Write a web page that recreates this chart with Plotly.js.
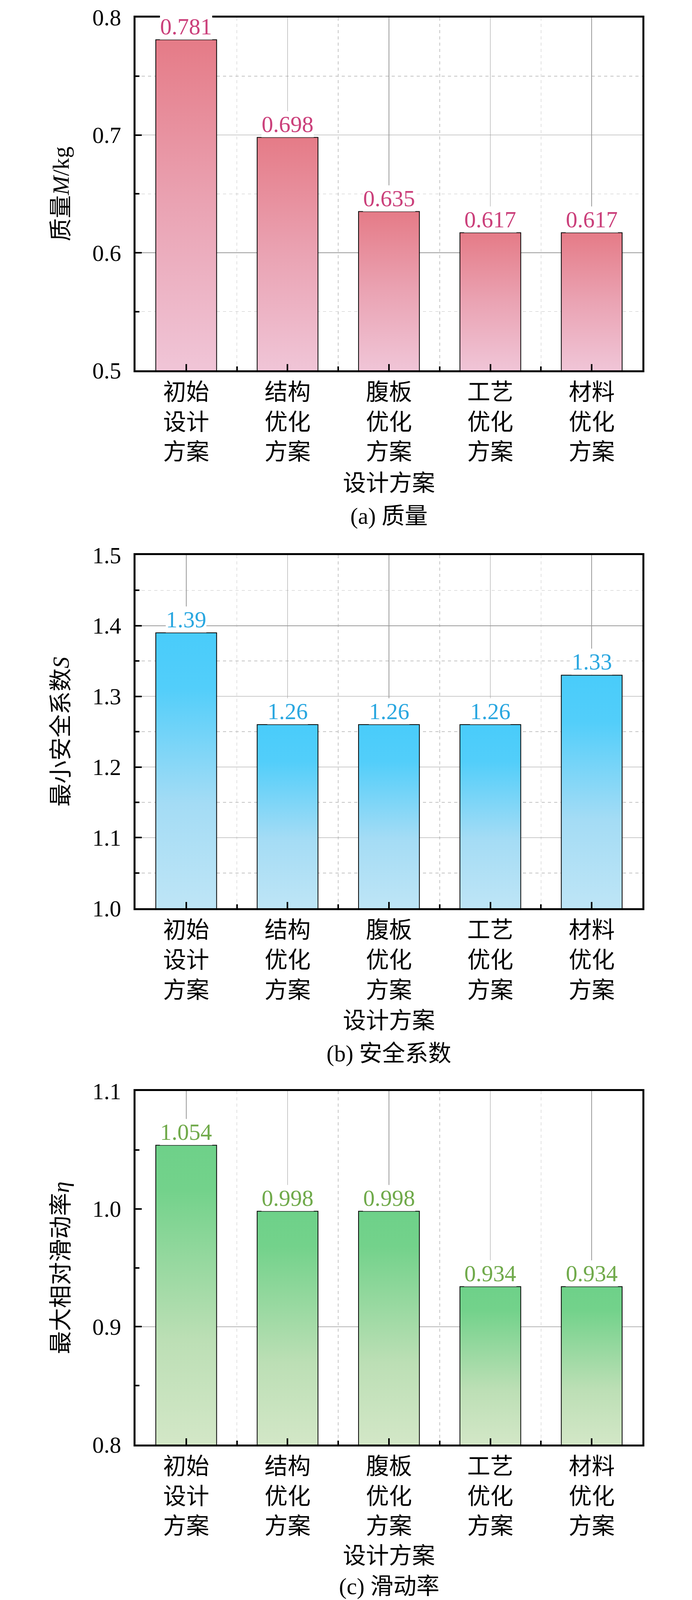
<!DOCTYPE html>
<html>
<head>
<meta charset="utf-8">
<script src="https://cdn.plot.ly/plotly-3.0.1.min.js"></script>
<style>
  body { margin: 0; background: #fff; overflow: hidden; }
</style>
</head>
<body>
<div id="chart"></div>
<script>
// categories (same for the three panels)
var schemes = ['初始<br>设计<br>方案', '结构<br>优化<br>方案', '腹板<br>优化<br>方案', '工艺<br>优化<br>方案', '材料<br>优化<br>方案'];
var pos = [0, 1, 2, 3, 4];

// values
var mass = [0.781, 0.698, 0.635, 0.617, 0.617];     // (a) 质量 M/kg
var safety = [1.39, 1.26, 1.26, 1.26, 1.33];        // (b) 最小安全系数 S
var slip = [1.054, 0.998, 0.998, 0.934, 0.934];     // (c) 最大相对滑动率 η

// the figure is laid out on a 1772 x 4680 sheet, fitted to the visible window height
var W = 1772;
var H = Math.min(4680, window.innerHeight || 4680);
var TOP = 14;                                   // small top pad so the first tick label is not clipped
function py(px) { return 1 - (TOP + px * (H - TOP) / 4680) / H; }   // sheet row -> paper fraction

var FONT = 'Liberation Serif, Times New Roman, Noto Sans CJK SC, serif';
var FS = Math.round(63 * Math.sqrt(H / 4680));

function xAxis(anchor) {
  return {
    anchor: anchor,
    domain: [347 / W, 1645 / W],
    range: [-0.5, 4.5],
    tickmode: 'array', tickvals: pos, ticktext: schemes,
    ticks: 'inside', ticklen: 16, tickwidth: 4, tickcolor: '#000',
    ticklabelstandoff: 0,
    showline: true, linewidth: 5, linecolor: '#000', mirror: true,
    showgrid: true, gridcolor: '#9a9a9a', gridwidth: 1.5,
    zeroline: false,
    tickfont: { size: FS },
    minor: { tickmode: 'linear', tick0: 0.5, dtick: 1, ticks: 'inside', ticklen: 10, tickwidth: 4, tickcolor: '#000',
             showgrid: true, gridcolor: '#c4c4c4', gridwidth: 1.5, griddash: '8px,8px' }
  };
}

function yAxis(anchor, top, bottom, rng, title, minorGrid) {
  return {
    anchor: anchor,
    domain: [py(bottom), py(top)],
    range: rng,
    dtick: 0.1, tick0: 0, tickformat: '.1f',
    ticks: 'inside', ticklen: 16, tickwidth: 4, tickcolor: '#000',
    ticklabelstandoff: 20, ticklabeloverflow: 'allow',
    showline: true, linewidth: 5, linecolor: '#000', mirror: true,
    showgrid: true, gridcolor: '#9a9a9a', gridwidth: 1.5,
    zeroline: false,
    tickfont: { size: FS },
    minor: { dtick: 0.05, ticks: 'inside', ticklen: 10, tickwidth: 4, tickcolor: '#000',
             showgrid: minorGrid, gridcolor: '#c4c4c4', gridwidth: 1.5, griddash: '8px,8px' },
    title: { text: title, standoff: 42, font: { size: FS } }
  };
}

function bars(vals, xa, ya, color) {
  return {
    type: 'bar', x: pos, y: vals, xaxis: xa, yaxis: ya, width: 0.6,
    marker: { color: color, line: { color: '#000', width: 2 } },
    hoverinfo: 'skip', showlegend: false
  };
}

var data = [
  bars(mass, 'x', 'y', '#E57B87'),
  bars(safety, 'x2', 'y2', '#49CCFA'),
  bars(slip, 'x3', 'y3', '#6ED189')
];

function valueLabels(vals, xr, yr, digits, color) {
  return vals.map(function (v, i) {
    return {
      x: pos[i], y: v, xref: xr, yref: yr, text: v.toFixed(digits),
      showarrow: false, yanchor: 'bottom', yshift: 0,
      bgcolor: '#fff', borderpad: 0,
      font: { family: FONT, size: FS, color: color }
    };
  });
}

function centred(text, xr, rowPx) {
  return { x: 0.5, xref: xr + ' domain', y: py(rowPx), yref: 'paper', text: text, showarrow: false,
           yanchor: 'middle', font: { family: FONT, size: FS, color: '#000' } };
}

var annotations = []
  .concat(valueLabels(mass, 'x', 'y', 3, '#CB407B'))
  .concat(valueLabels(safety, 'x2', 'y2', 2, '#2AA7E0'))
  .concat(valueLabels(slip, 'x3', 'y3', 3, '#70AA4B'));
annotations.push(centred('设计方案', 'x', 1402));
annotations.push(centred('(a) 质量', 'x', 1498));
annotations.push(centred('设计方案', 'x2', 2980));
annotations.push(centred('(b) 安全系数', 'x2', 3076));
annotations.push(centred('设计方案', 'x3', 4550));
annotations.push(centred('(c) 滑动率', 'x3', 4640));

var layout = {
  width: W, height: H,
  margin: { l: 0, r: 0, t: 0, b: 0 },
  paper_bgcolor: '#fff', plot_bgcolor: '#fff',
  font: { family: FONT, size: FS, color: '#000' },
  xaxis: xAxis('y'),
  xaxis2: xAxis('y2'),
  xaxis3: xAxis('y3'),
  yaxis: yAxis('x', 35, 1071, [0.5, 0.8], '质量<i>M</i>/kg', true),
  yaxis2: yAxis('x2', 1613, 2650, [1.0, 1.5], '最小安全系数<i>S</i>', true),
  yaxis3: yAxis('x3', 3186, 4224, [0.8, 1.1], '最大相对滑动率<i>η</i>', false),
  shapes: [
    // panel (c) shows only the 0.9 horizontal grid line
    { type: 'line', xref: 'x3 domain', yref: 'y3', x0: 0, x1: 1, y0: 0.9, y1: 0.9,
      line: { color: '#9a9a9a', width: 1.5 }, layer: 'below' }
  ],
  annotations: annotations
};
layout.yaxis3.showgrid = false;

// vertical colour ramps for the bars, per subplot (top of bar -> bottom axis)
var ramps = {
  xy: { axis: 'yaxis', stops: [['0', '#E57B87'], ['0.5', '#EAA3B3'], ['1', '#F0C5D7']] },
  x2y2: { axis: 'yaxis2', stops: [['0', '#49CCFA'], ['0.2', '#52CEFA'], ['0.62', '#A4DCF5'], ['1', '#BEE5F6']] },
  x3y3: { axis: 'yaxis3', stops: [['0', '#6ED189'], ['0.15', '#73D28B'], ['0.65', '#BCDFB5'], ['1', '#D3E7C7']] }
};

// bars start at 0, far below the visible range, so each ramp is set in user space
// from the bar's top edge down to the bottom of its plot area
function paintBars(gd) {
  var svgNS = 'http://www.w3.org/2000/svg';
  var defs = gd.querySelector('.main-svg defs');
  Object.keys(ramps).forEach(function (sp) {
    var dom = layout[ramps[sp].axis].domain;
    var plotH = (dom[1] - dom[0]) * H;
    gd.querySelectorAll('.subplot.' + sp + ' .point path').forEach(function (p, i) {
      var id = 'ramp-' + sp + '-' + i;
      var old = document.getElementById(id);
      if (old) old.parentNode.removeChild(old);
      var bb = p.getBBox();
      var g = document.createElementNS(svgNS, 'linearGradient');
      g.setAttribute('id', id);
      g.setAttribute('gradientUnits', 'userSpaceOnUse');
      g.setAttribute('x1', '0'); g.setAttribute('x2', '0');
      g.setAttribute('y1', String(bb.y)); g.setAttribute('y2', String(plotH));
      ramps[sp].stops.forEach(function (s) {
        var st = document.createElementNS(svgNS, 'stop');
        st.setAttribute('offset', s[0]);
        st.setAttribute('stop-color', s[1]);
        g.appendChild(st);
      });
      defs.appendChild(g);
      p.style.setProperty('fill', 'url(#' + id + ')');
    });
  });
}

var gd = document.getElementById('chart');
Plotly.newPlot(gd, data, layout, { staticPlot: true }).then(function () {
  paintBars(gd);
  gd.on('plotly_afterplot', function () { paintBars(gd); });
});
</script>
</body>
</html>
